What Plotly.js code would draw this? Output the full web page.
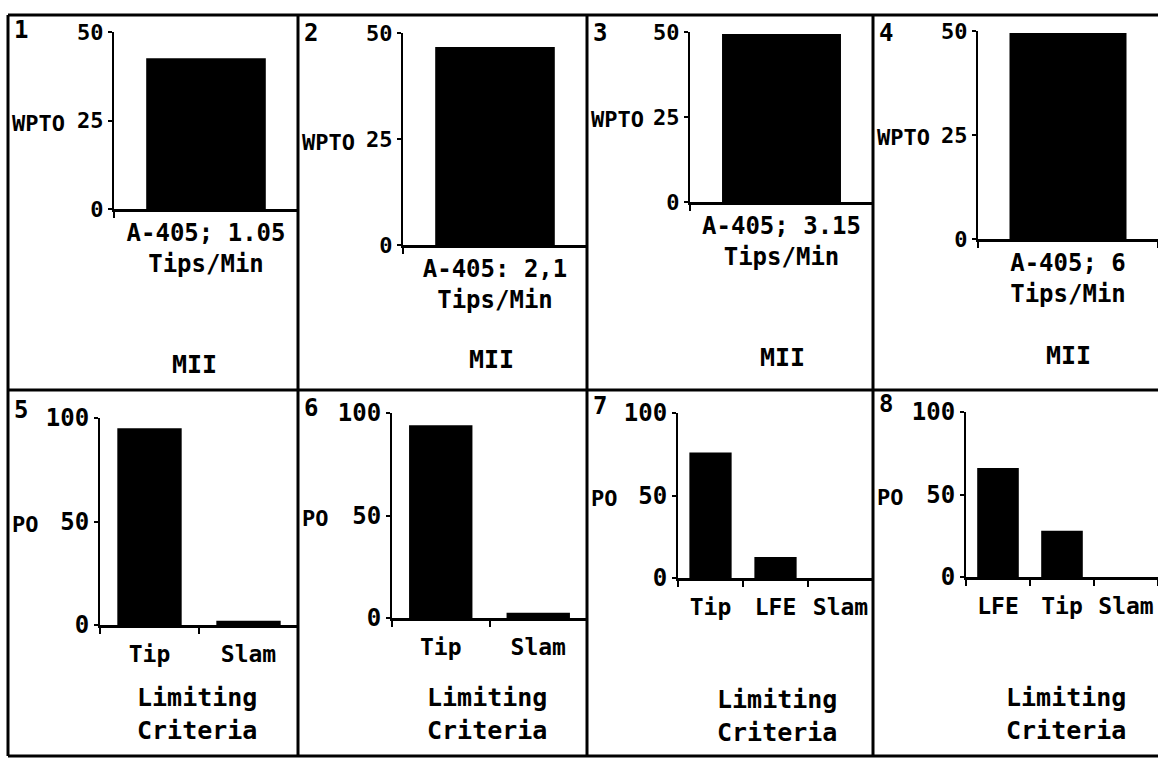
<!DOCTYPE html>
<html>
<head>
<meta charset="utf-8">
<script src="https://cdn.plot.ly/plotly-3.0.1.min.js"></script>
<style>
  html, body { margin: 0; padding: 0; background: #fff; }
  #chart { width: 1158px; height: 763px; }
</style>
</head>
<body>
<div id="chart"></div>
<script>
// ---- data ----
const panelNumbers = ["1", "2", "3", "4", "5", "6", "7", "8"];

const topCategories = [
  ["A-405; 1.05<br>Tips/Min"],
  ["A-405: 2,1<br>Tips/Min"],
  ["A-405; 3.15<br>Tips/Min"],
  ["A-405; 6<br>Tips/Min"]
];
const wptoValues = [[42.6], [46.7], [49.4], [49.5]];
const topYTicks = [0, 25, 50];
const topYLabel = "WPTO";
const topXTitle = "MII";

const bottomCategories = [
  ["Tip", "Slam"],
  ["Tip", "Slam"],
  ["Tip", "LFE", "Slam"],
  ["LFE", "Tip", "Slam"]
];
const poValues = [
  [95, 2],
  [94, 2.5],
  [76, 12.7, 0],
  [66, 28, 0]
];
const bottomYTicks = [0, 50, 100];
const bottomYLabel = "PO";
const bottomXTitle = "Limiting<br>Criteria";

// ---- layout geometry (pixels in the 1158x763 page) ----
const W = 1158, H = 763;
const px = v => v / W;
const py = v => 1 - v / H;

// plot boxes: [xLeft, xRight, yZeroPx, yTopPx]
const boxes = [
  [114, 298, 209, 32],
  [403, 587, 245, 33],
  [690, 873, 202, 32],
  [978, 1158, 239, 31],
  [100, 298, 625, 418],
  [392, 587, 618, 413],
  [678, 873, 578, 413],
  [966, 1158, 577, 412]
];
const panelLeft = [8, 298, 587, 873, 8, 298, 587, 873];
const panelLabelY = [30, 33, 33, 33, 410, 408, 406, 404];
const titleX = [195, 491, 782, 1068, 197, 487, 777, 1066];
const titleY = [364, 360, 357, 355, 714, 714, 716, 714];

const FONT = "DejaVu Sans Mono";
const FS = 24;
const txt = (size) => ({family: FONT, size: size, color: "#000", weight: "bold"});

const data = [];
const layout = {
  width: W, height: H,
  margin: {l: 0, r: 0, t: 0, b: 0},
  paper_bgcolor: "#ffffff",
  plot_bgcolor: "rgba(0,0,0,0)",
  showlegend: false,
  bargap: 0.35,
  font: txt(FS),
  annotations: [],
  shapes: []
};

for (let i = 0; i < 8; i++) {
  const isTop = i < 4;
  const k = isTop ? i : i - 4;
  const cats = isTop ? topCategories[k] : bottomCategories[k];
  const vals = isTop ? wptoValues[k] : poValues[k];
  const suffix = i === 0 ? "" : String(i + 1);
  const b = boxes[i];

  data.push({
    type: "bar",
    x: cats,
    y: vals,
    xaxis: "x" + suffix,
    yaxis: "y" + suffix,
    marker: {color: "#000000", line: {width: 0}},
    hoverinfo: "x+y"
  });

  layout["xaxis" + suffix] = {
    domain: [px(b[0]), px(b[1])],
    anchor: "y" + suffix,
    type: "category",
    range: [-0.5, cats.length - 0.5],
    showline: true, linecolor: "#000", linewidth: 3,
    ticks: "outside", ticklen: 6, tickwidth: 2, tickcolor: "#000",
    tickson: "boundaries",
    tickangle: 0,
    ticklabelstandoff: isTop ? 0 : 6,
    showgrid: false, zeroline: false,
    tickfont: txt(isTop ? FS : 23),
    fixedrange: true
  };
  layout["yaxis" + suffix] = {
    domain: [py(b[2]), py(b[3])],
    anchor: "x" + suffix,
    range: isTop ? [0, 50] : [0, 100],
    tickvals: isTop ? topYTicks : bottomYTicks,
    showline: true, linecolor: "#000", linewidth: 2,
    ticks: "outside", ticklen: 4, tickwidth: 2, tickcolor: "#000",
    showgrid: false, zeroline: false,
    tickfont: txt(isTop ? 22 : FS),
    fixedrange: true
  };

  // panel number
  layout.annotations.push({
    xref: "paper", yref: "paper",
    x: px(panelLeft[i] + 4), y: py(panelLabelY[i]),
    xanchor: "left", yanchor: "middle",
    text: panelNumbers[i], showarrow: false,
    font: txt(FS)
  });
  // horizontal y label
  layout.annotations.push({
    xref: "paper", yref: "y" + suffix,
    x: px(panelLeft[i] + 2), y: isTop ? topYTicks[1] : bottomYTicks[1],
    xanchor: "left", yanchor: "middle", yshift: -3,
    text: isTop ? topYLabel : bottomYLabel, showarrow: false,
    font: txt(22)
  });
  // x title
  layout.annotations.push({
    xref: "paper", yref: "paper",
    x: px(titleX[i]), y: py(titleY[i]),
    xanchor: "center", yanchor: "middle",
    text: isTop ? topXTitle : bottomXTitle, showarrow: false,
    font: txt(FS + 1)
  });
}

// panel frame lines
const frameLine = (x0, y0, x1, y1) => ({
  type: "line", xref: "paper", yref: "paper",
  x0: px(x0), y0: py(y0), x1: px(x1), y1: py(y1),
  line: {color: "#000", width: 3}
});
layout.shapes.push(frameLine(8, 15, 1158, 15));
layout.shapes.push(frameLine(8, 390, 1158, 390));
layout.shapes.push(frameLine(8, 756, 1158, 756));
[8, 298, 587, 873].forEach(x => layout.shapes.push(frameLine(x, 15, x, 756)));

Plotly.newPlot("chart", data, layout, {displayModeBar: false, staticPlot: true});
</script>
</body>
</html>
